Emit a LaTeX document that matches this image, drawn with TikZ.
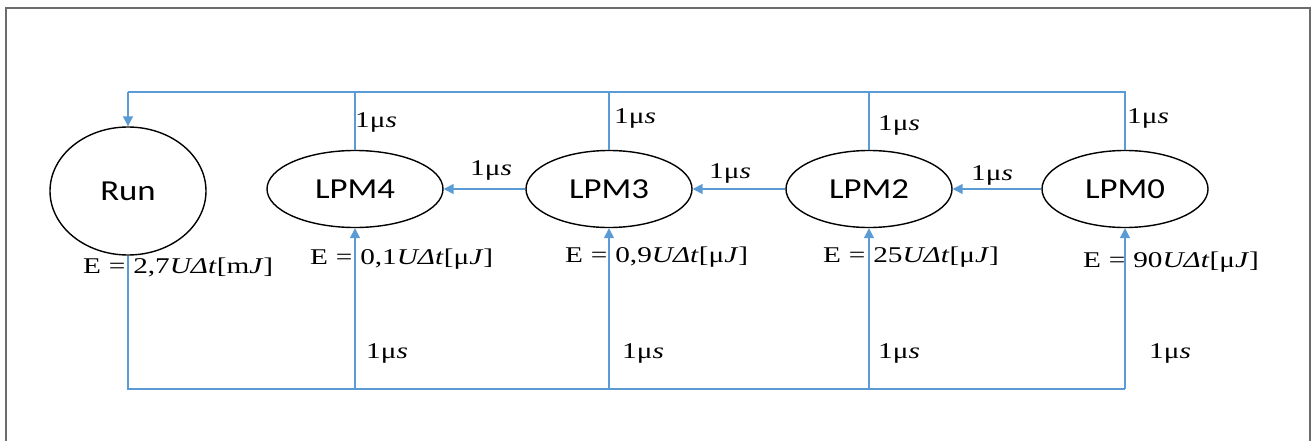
\documentclass[tikz,border=0pt]{standalone}
\usepackage{fontspec}
\usetikzlibrary{shapes.geometric,arrows.meta}
\newfontfamily\statefont[FakeStretch=1.2]{Carlito}
\newfontfamily\lblfont[FakeStretch=1.3]{Liberation Serif}
\definecolor{wordblue}{HTML}{5B9BD5}
\newcommand{\us}{1μ\textit{s}}
\newcommand{\eq}{\hspace{0.35em}=\hspace{0.35em}}

\begin{document}
\begin{tikzpicture}[x=1pt,y=-1pt,
    state/.style={ellipse,draw,line width=1.4pt,minimum width=166pt,minimum height=77pt,
      inner sep=0pt,font=\statefont\fontsize{29}{32}\selectfont},
    flow/.style={draw=wordblue,line width=1.6pt},
    trunk/.style={draw=wordblue,line width=2.2pt},
    tip/.style={-{Triangle[length=10pt,width=10pt]}},
    lbl/.style={inner sep=0pt,anchor=west,font=\lblfont\fontsize{22.5}{24}\selectfont}]
      \useasboundingbox (0,0) rectangle (1316,441);
      \draw[gray!85!black,line width=2pt] (6,450) -- (6,8) -- (1310,8) -- (1310,450);

      % States
      \node[state,minimum width=156pt,minimum height=128pt] (run) at (128,191) {Run};
      \node[state,minimum width=176pt] (lpm4) at (355,189) {LPM4};
      \node[state] (lpm3) at (609,189) {LPM3};
      \node[state] (lpm2) at (869,189) {LPM2};
      \node[state] (lpm0) at (1125,189) {LPM0};

      % Trunk lines above and below
      \coordinate (tl) at (128,92);
      \coordinate (tr) at (1125,92);
      \coordinate (bl) at (128,389);

      % Wake-up back to Run
      \draw[trunk] (lpm0.north) -- (tr) -- (tl);
      \draw[flow,tip] (tl) -- (run.north);
      \draw[flow] (lpm4.north) -- (lpm4 |- tl);
      \draw[flow] (lpm3.north) -- (lpm3 |- tl);
      \draw[flow] (lpm2.north) -- (lpm2 |- tl);

      % Run into the low power modes
      \draw[trunk] (run.south) -- (bl) -- (lpm0 |- bl);
      \draw[flow,tip] (lpm4 |- bl) -- (lpm4.south);
      \draw[flow,tip] (lpm3 |- bl) -- (lpm3.south);
      \draw[flow,tip] (lpm2 |- bl) -- (lpm2.south);
      \draw[flow,tip] (lpm0 |- bl) -- (lpm0.south);

      % Steps between modes
      \draw[flow,tip] (lpm0.west) -- (lpm2.east);
      \draw[flow,tip] (lpm2.west) -- (lpm3.east);
      \draw[flow,tip] (lpm3.west) -- (lpm4.east);

      % Energy per state
      \node[lbl] (erun) at (83,267) {E\eq2,7\textit{UΔt}[m\textit{J}]};
      \node[lbl] (e4) at (310,259) {E\eq0,1\textit{UΔt}[μ\textit{J}]};
      \node[lbl] (e3) at (565,257) {E\eq0,9\textit{UΔt}[μ\textit{J}]};
      \node[lbl] (e2) at (823,257) {E\eq25\textit{UΔt}[μ\textit{J}]};
      \node[lbl] (e0) at (1083,262) {E\eq90\textit{UΔt}[μ\textit{J}]};

      % Transition times
      \node[lbl] (t4) at (355,122) {\us};
      \node[lbl] (t3) at (614,118) {\us};
      \node[lbl] (t2) at (878,125) {\us};
      \node[lbl] (t0) at (1127,118) {\us};
      \node[lbl] (h43) at (470,170) {\us};
      \node[lbl] (h32) at (709,173) {\us};
      \node[lbl] (h20) at (971,175) {\us};
      \node[lbl] (b4) at (366,353) {\us};
      \node[lbl] (b3) at (622,353) {\us};
      \node[lbl] (b2) at (878,353) {\us};
      \node[lbl] (b0) at (1149,353) {\us};
    \end{tikzpicture}
\end{document}
